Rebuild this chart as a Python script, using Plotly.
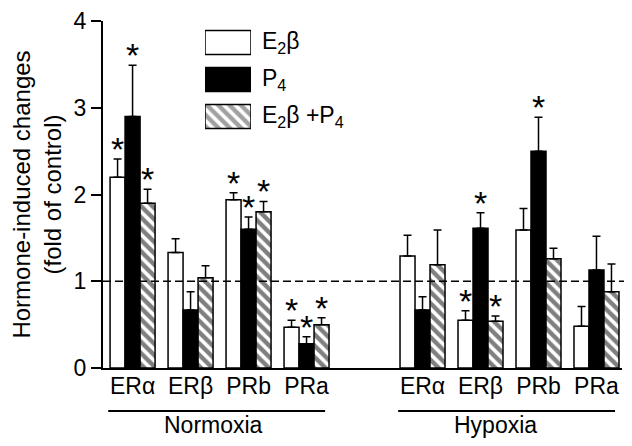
import plotly.graph_objects as go

# data
categories = ["ERα", "ERβ", "PRb", "PRa"]
conditions = ["Normoxia", "Hypoxia"]
x_pos = [0, 1, 2, 3, 5, 6, 7, 8]
tick_labels = categories + categories

e2b = [2.20, 1.33, 1.94, 0.47, 1.29, 0.55, 1.59, 0.48]
e2b_err = [0.21, 0.16, 0.08, 0.08, 0.24, 0.11, 0.25, 0.23]
p4 = [2.90, 0.67, 1.60, 0.28, 0.67, 1.61, 2.50, 1.13]
p4_err = [0.59, 0.21, 0.14, 0.08, 0.15, 0.18, 0.39, 0.39]
e2b_p4 = [1.90, 1.04, 1.80, 0.50, 1.19, 0.54, 1.26, 0.88]
e2b_p4_err = [0.16, 0.14, 0.12, 0.08, 0.40, 0.06, 0.12, 0.32]

# significance stars (1 = marked)
e2b_sig = [1, 0, 1, 1, 0, 1, 0, 0]
p4_sig = [1, 0, 1, 1, 0, 1, 1, 0]
e2b_p4_sig = [1, 0, 1, 1, 0, 1, 0, 0]

legend_names = ["E<sub>2</sub>β", "P<sub>4</sub>", "E<sub>2</sub>β +P<sub>4</sub>"]

FONT = "Arial, Liberation Sans, sans-serif"
W, H = 632, 446
ML, MR, MT, MB = 95, 18, 13, 86
plot_h = H - MT - MB
plot_w = W - ML - MR
BARGAP = 0.224
bar_w = (1 - BARGAP) / 3
HATCH = dict(fgcolor="black", size=8, solidity=0.55)

series = [
    (e2b, e2b_err, e2b_sig, "white", ""),
    (p4, p4_err, p4_sig, "black", ""),
    (e2b_p4, e2b_p4_err, e2b_p4_sig, "white", "\\"),
]

fig = go.Figure()
for name, (vals, errs, sig, color, shape) in zip(legend_names, series):
    fig.add_trace(
        go.Bar(
            x=x_pos,
            y=vals,
            name=name,
            showlegend=False,
            marker=dict(
                color=color,
                line=dict(color="black", width=1.5),
                pattern=dict(shape=shape, bgcolor=color, **HATCH),
            ),
            error_y=dict(
                type="data",
                symmetric=False,
                array=errs,
                arrayminus=[0] * len(errs),
                color="black",
                thickness=1.5,
                width=4,
            ),
        )
    )

# stars over the error caps
annotations = []
for i, (vals, errs, sig, color, shape) in enumerate(series):
    off = (i - 1) * bar_w
    for xp, v, e, s in zip(x_pos, vals, errs, sig):
        if s:
            annotations.append(
                dict(
                    x=xp + off, y=v + e, xref="x", yref="y", text="*",
                    showarrow=False, yshift=10,
                    font=dict(size=34, color="black", family=FONT),
                )
            )

# legend drawn as small horizontal bars on their own axes
fig.add_trace(
    go.Bar(
        y=[0, 1, 2],
        x=[1, 1, 1],
        orientation="h",
        xaxis="x2",
        yaxis="y2",
        width=0.65,
        showlegend=False,
        hoverinfo="skip",
        cliponaxis=False,
        marker=dict(
            color=["white", "black", "white"],
            line=dict(color="black", width=1.5),
            pattern=dict(shape=["", "", "\\"], **HATCH),
        ),
    )
)
for k, name in enumerate(legend_names):
    annotations.append(
        dict(
            x=(252 - ML) / plot_w, y=k, xref="paper", yref="y2", text=name,
            xanchor="left", showarrow=False,
            font=dict(size=23, color="black", family=FONT),
        )
    )


def py(px):
    return (H - MB - px) / plot_h


# group underlines and labels
groups = [x_pos[:4], x_pos[4:]]
shapes = []
for cond, grp, lab_shift in zip(conditions, groups, [-0.1, -0.25]):
    shapes.append(
        dict(type="line", xref="x", yref="paper",
             x0=grp[0] - 0.42, x1=grp[-1] + 0.32, y0=py(403), y1=py(403),
             line=dict(color="black", width=2))
    )
    annotations.append(
        dict(x=sum(grp) / len(grp) + lab_shift, y=py(417), xref="x", yref="paper",
             text=cond, showarrow=False, yanchor="middle",
             font=dict(size=23, color="black", family=FONT))
    )

# dashed control line at 1
shapes.append(
    dict(type="line", xref="paper", yref="y", x0=0, x1=1.03, y0=1, y1=1,
         line=dict(color="black", width=1.5, dash="8px,4px"), layer="above")
)

fig.update_layout(
    width=W,
    height=H,
    margin=dict(l=ML, r=MR, t=MT, b=MB),
    paper_bgcolor="white",
    plot_bgcolor="white",
    barmode="group",
    bargap=BARGAP,
    bargroupgap=0,
    font=dict(family=FONT, color="black", size=22),
    xaxis=dict(
        range=[-0.51, 8.44],
        tickvals=x_pos,
        ticktext=tick_labels,
        ticks="",
        ticklabelstandoff=-4,
        showline=True,
        linecolor="black",
        linewidth=2,
        showgrid=False,
        zeroline=False,
        automargin=False,
        tickfont=dict(size=23),
    ),
    yaxis=dict(
        range=[0, 4],
        dtick=1,
        ticks="outside",
        ticklen=10,
        tickwidth=2,
        tickcolor="black",
        showline=True,
        linecolor="black",
        linewidth=2,
        showgrid=False,
        zeroline=False,
        automargin=False,
        tickfont=dict(size=23),
        title=dict(text="Hormone-induced changes<br>(fold of control)",
                   font=dict(size=24), standoff=10),
    ),
    xaxis2=dict(domain=[(197 - ML) / plot_w, (243 - ML) / plot_w], range=[0, 1],
                anchor="y2", visible=False, fixedrange=True),
    yaxis2=dict(domain=[py(127), py(16)], range=[2.5, -0.5],
                anchor="x2", visible=False, fixedrange=True),
    shapes=shapes,
    annotations=annotations,
)

fig.write_html("out.html")
